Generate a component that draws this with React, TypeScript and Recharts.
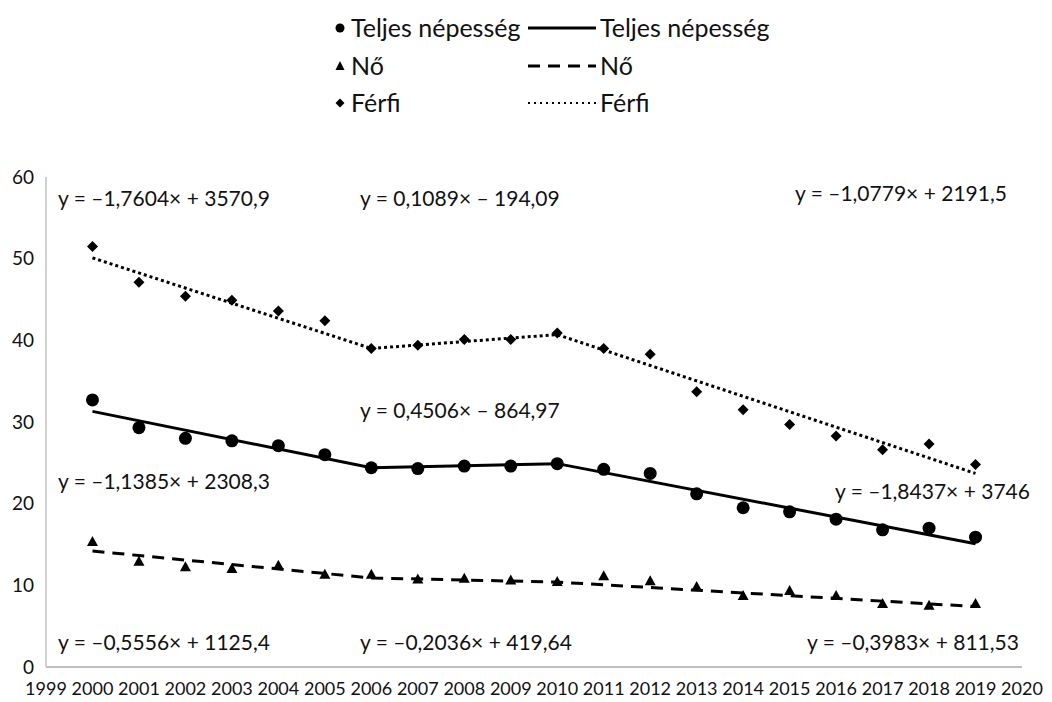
import React from 'react';
import { ComposedChart, Line, Scatter, XAxis, YAxis } from 'recharts';

const years = [2000, 2001, 2002, 2003, 2004, 2005, 2006, 2007, 2008, 2009, 2010, 2011, 2012, 2013, 2014, 2015, 2016, 2017, 2018, 2019];
const teljes = [32.7, 29.3, 28.0, 27.7, 27.1, 26.0, 24.4, 24.3, 24.6, 24.6, 24.9, 24.2, 23.7, 21.2, 19.5, 19.0, 18.1, 16.8, 17.0, 15.9];
const no = [15.3, 12.9, 12.2, 12.0, 12.4, 11.3, 11.3, 10.7, 10.8, 10.6, 10.4, 11.1, 10.5, 9.8, 8.7, 9.3, 8.7, 7.7, 7.5, 7.7];
const ferfi = [51.5, 47.1, 45.4, 44.9, 43.6, 42.4, 39.0, 39.4, 40.1, 40.1, 40.9, 39.0, 38.3, 33.7, 31.5, 29.7, 28.3, 26.6, 27.3, 24.8];

// trend segment end points (2000-2006, 2006-2010, 2010-2019)
const trendYears = [2000, 2006, 2010, 2019];
const teljesTrend = [31.3, 24.4, 24.9, 15.1];
const noTrend = [14.2, 10.9, 10.4, 7.4];
const ferfiTrend = [50.1, 39.0, 40.7, 23.7];

const xTicks = [1999, 2000, 2001, 2002, 2003, 2004, 2005, 2006, 2007, 2008, 2009, 2010, 2011, 2012, 2013, 2014, 2015, 2016, 2017, 2018, 2019, 2020];
const yTicks = [0, 10, 20, 30, 40, 50, 60];

const equations = [
  { text: 'y = –1,7604× + 3570,9', x: 58, y: 198 },
  { text: 'y = 0,1089× – 194,09', x: 360, y: 198 },
  { text: 'y = –1,0779× + 2191,5', x: 795, y: 193 },
  { text: 'y = 0,4506× – 864,97', x: 360, y: 410 },
  { text: 'y = –1,1385× + 2308,3', x: 58, y: 481 },
  { text: 'y = –1,8437× + 3746', x: 835, y: 491 },
  { text: 'y = –0,5556× + 1125,4', x: 58, y: 642 },
  { text: 'y = –0,2036× + 419,64', x: 360, y: 642 },
  { text: 'y = –0,3983× + 811,53', x: 807, y: 642 },
];

const FONT = 'Lato, "Open Sans", sans-serif';

const chartData = years.map((year, i) => {
  const t = trendYears.indexOf(year);
  return {
    year,
    teljes: teljes[i],
    no: no[i],
    ferfi: ferfi[i],
    teljesTrend: t >= 0 ? teljesTrend[t] : null,
    noTrend: t >= 0 ? noTrend[t] : null,
    ferfiTrend: t >= 0 ? ferfiTrend[t] : null,
  };
});

const CircleDot = (props: any) => <circle cx={props.cx} cy={props.cy} r={6.5} fill="#000" />;
const TriangleDot = (props: any) => (
  <polygon
    points={`${props.cx},${props.cy - 6} ${props.cx - 5.5},${props.cy + 4} ${props.cx + 5.5},${props.cy + 4}`}
    fill="#000"
  />
);
const DiamondDot = (props: any) => (
  <polygon
    points={`${props.cx},${props.cy - 5.5} ${props.cx + 5.5},${props.cy} ${props.cx},${props.cy + 5.5} ${props.cx - 5.5},${props.cy}`}
    fill="#000"
  />
);

const LegendRow = ({ y, marker, label, dash }: any) => (
  <>
    <svg style={{ position: 'absolute', left: 332, top: y - 8 }} width={16} height={16}>
      {marker === 'circle' && <circle cx={8} cy={8} r={4.5} fill="#000" />}
      {marker === 'triangle' && <polygon points="8,3 3.5,12 12.5,12" fill="#000" />}
      {marker === 'diamond' && <polygon points="8,3.5 12.5,8 8,12.5 3.5,8" fill="#000" />}
    </svg>
    <span style={{ position: 'absolute', left: 351, top: y - 15, fontSize: 25, lineHeight: '28px' }}>{label}</span>
    <svg style={{ position: 'absolute', left: 526, top: y - 4 }} width={72} height={8}>
      <line x1={2} y1={4} x2={70} y2={4} stroke="#000" strokeWidth={dash === '2 4' ? 2 : 3} strokeDasharray={dash} />
    </svg>
    <span style={{ position: 'absolute', left: 600, top: y - 15, fontSize: 25, lineHeight: '28px' }}>{label}</span>
  </>
);

export default function App() {
  return (
    <div style={{ position: 'relative', width: 1052, height: 702, background: '#fff', fontFamily: FONT, color: '#111' }}>
      <style>{'body{margin:0}'}</style>
      <LegendRow y={28} marker="circle" label="Teljes népesség" dash={undefined} />
      <LegendRow y={66} marker="triangle" label="Nő" dash="12 8" />
      <LegendRow y={103} marker="diamond" label="Férfi" dash="2 4" />

      <div style={{ position: 'absolute', left: 0, top: 0 }}>
        <ComposedChart width={1052} height={702} data={chartData} margin={{ top: 177, right: 30, left: 6, bottom: 0 }}>
          <XAxis
            dataKey="year"
            type="number"
            domain={[1999, 2020]}
            ticks={xTicks}
            interval={0}
            axisLine={{ stroke: '#bfbfbf', strokeWidth: 2 }}
            tickLine={false}
            height={35}
            tick={{ fontSize: 18, fill: '#111', fontFamily: FONT }}
            tickMargin={9}
          />
          <YAxis
            type="number"
            domain={[0, 60]}
            ticks={yTicks}
            axisLine={{ stroke: '#d0d0d0', strokeWidth: 2 }}
            tickLine={false}
            width={40}
            tick={{ fontSize: 19, fill: '#111', fontFamily: FONT }}
            tickMargin={6}
          />
          <Line dataKey="teljesTrend" stroke="#000" strokeWidth={3} dot={false} connectNulls isAnimationActive={false} />
          <Line dataKey="noTrend" stroke="#000" strokeWidth={3} strokeDasharray="12 8" dot={false} connectNulls isAnimationActive={false} />
          <Line dataKey="ferfiTrend" stroke="#000" strokeWidth={3} strokeDasharray="3 3" dot={false} connectNulls isAnimationActive={false} />
          <Scatter dataKey="teljes" shape={CircleDot} isAnimationActive={false} />
          <Scatter dataKey="no" shape={TriangleDot} isAnimationActive={false} />
          <Scatter dataKey="ferfi" shape={DiamondDot} isAnimationActive={false} />
        </ComposedChart>
      </div>

      {equations.map((e) => (
        <span
          key={e.text}
          style={{ position: 'absolute', left: e.x, top: e.y - 13, fontSize: 21, lineHeight: '26px', whiteSpace: 'nowrap' }}
        >
          {e.text}
        </span>
      ))}
    </div>
  );
}
